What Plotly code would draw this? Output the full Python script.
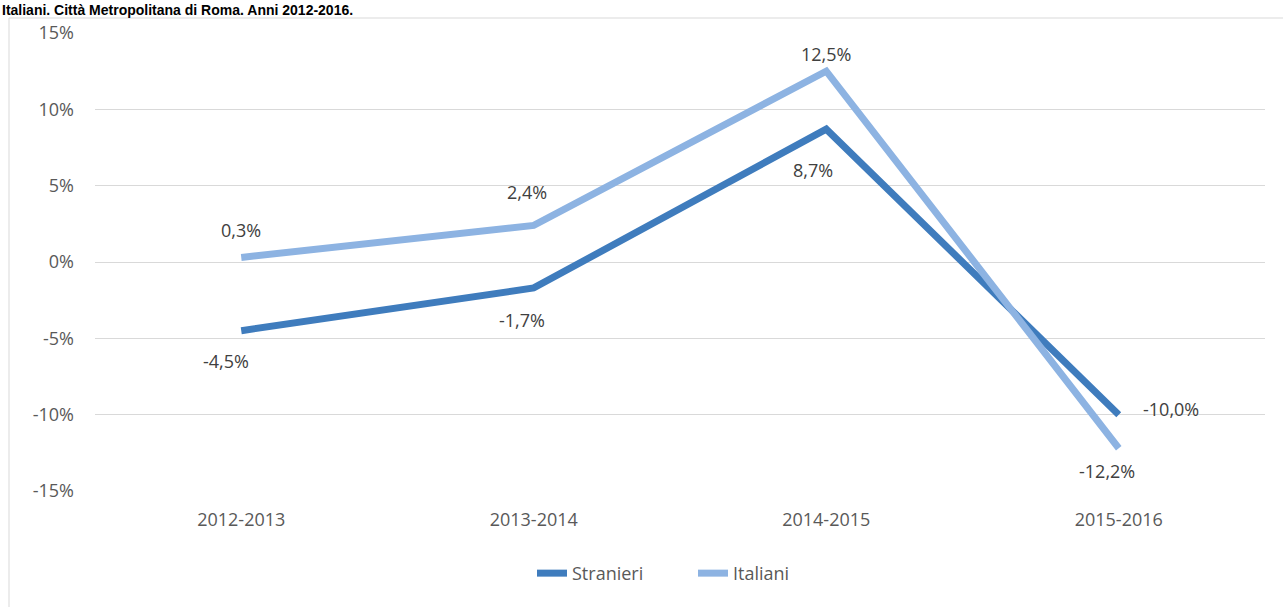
import plotly.graph_objects as go

# Annual percentage change, Città Metropolitana di Roma
periods = ["2012-2013", "2013-2014", "2014-2015", "2015-2016"]
stranieri = [-4.5, -1.7, 8.7, -10.0]
italiani = [0.3, 2.4, 12.5, -12.2]
y_ticks = [15, 10, 5, 0, -5, -10, -15]

title_text = "Italiani. Città Metropolitana di Roma. Anni 2012-2016."

FONT = "'Open Sans', Lato, sans-serif"
LABEL_COLOR = "#404040"
AXIS_COLOR = "#595959"
FS = 18

# pixel offsets of each data label from its point
stranieri_offsets = [(-15, -30), (-12, -32), (-13, -41), (52, 6)]
italiani_offsets = [(0, 27), (-7, 33), (0, 17), (-12, -23)]


def fmt(v):
    return f"{v:.1f}%".replace(".", ",")


fig = go.Figure()

fig.add_trace(go.Scatter(
    x=periods, y=stranieri, name="Stranieri", mode="lines",
    line=dict(color="#3f7cbd", width=7),
))
fig.add_trace(go.Scatter(
    x=periods, y=italiani, name="Italiani", mode="lines",
    line=dict(color="#8db3e2", width=7),
))

annotations = []
for series, offsets in ((stranieri, stranieri_offsets), (italiani, italiani_offsets)):
    for p, v, (dx, dy) in zip(periods, series, offsets):
        annotations.append(dict(
            x=p, y=v, text=fmt(v), showarrow=False,
            xshift=dx, yshift=dy,
            font=dict(family=FONT, size=FS, color=LABEL_COLOR),
        ))

annotations.append(dict(
    text=f"<b>{title_text}</b>", xref="paper", yref="paper",
    x=-95 / 1170, xanchor="left", y=1, yanchor="top", yshift=33,
    showarrow=False, font=dict(family="Liberation Sans, Arial", size=14, color="#000000"),
))

fig.update_layout(
    width=1283, height=607,
    margin=dict(l=95, r=18, t=33, b=116),
    paper_bgcolor="white", plot_bgcolor="white",
    font=dict(family=FONT, size=FS, color=AXIS_COLOR),
    showlegend=True,
    legend=dict(
        orientation="h", x=(532 - 95) / 1170, xanchor="left",
        y=-0.18, yanchor="middle",
        font=dict(family=FONT, size=FS, color=AXIS_COLOR),
        entrywidth=116, entrywidthmode="pixels",
        itemwidth=30, tracegroupgap=0,
    ),
    xaxis=dict(
        type="category", range=[-0.5, 3.5], showgrid=False, zeroline=False,
        showline=False, ticks="", ticklabelstandoff=16,
        tickfont=dict(family=FONT, size=FS, color=AXIS_COLOR),
    ),
    yaxis=dict(
        range=[-15, 15], tickvals=y_ticks,
        ticktext=[f"{v}%" for v in y_ticks],
        showgrid=True, gridcolor="#d9d9d9", gridwidth=1,
        zeroline=False, showline=False, ticks="", ticklabelstandoff=20,
        tickfont=dict(family=FONT, size=FS, color=AXIS_COLOR),
    ),
    shapes=[dict(
        type="rect", xref="paper", yref="paper",
        x0=-86 / 1170, x1=1.02, y0=-0.26, y1=1 + 15 / 458,
        line=dict(color="#d9d9d9", width=1), fillcolor="rgba(0,0,0,0)",
        layer="below",
    )],
    annotations=annotations,
)

fig.write_html("out.html")
